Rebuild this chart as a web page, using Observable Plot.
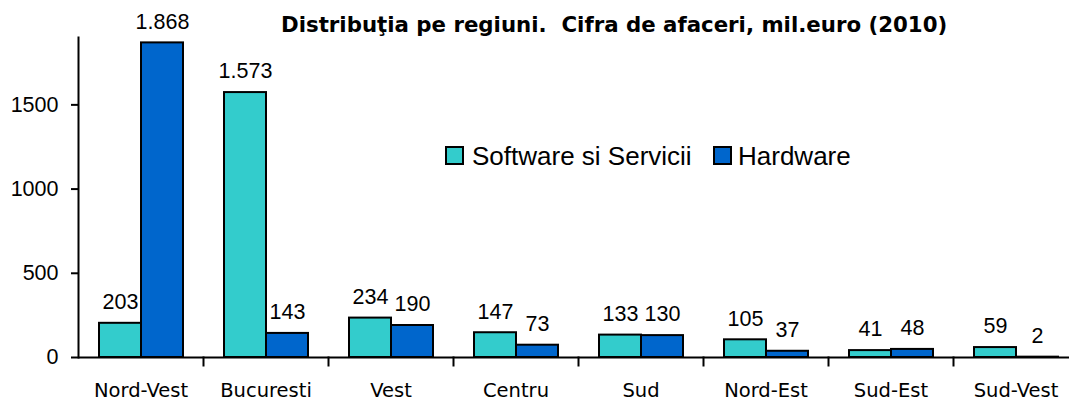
<!DOCTYPE html>
<html>
<head>
<meta charset="utf-8">
<script src="https://cdn.jsdelivr.net/npm/d3@7"></script>
<script src="https://cdn.jsdelivr.net/npm/@observablehq/plot@0.6"></script>
<style>
  html, body { margin: 0; padding: 0; background: white; }
  #wrap { position: relative; width: 1069px; height: 402px; overflow: hidden; }
  #title { position: absolute; left: 281px; top: 14px; font-family: "DejaVu Sans"; font-weight: bold; font-size: 21.3px; line-height: 22px; white-space: nowrap; color: black; }
  .sw { position: absolute; top: 146px; width: 19px; height: 19px; box-sizing: border-box; border: 2px solid black; }
  .lt { position: absolute; top: 143px; font-family: "Liberation Sans"; font-size: 26px; line-height: 26px; white-space: nowrap; color: black; }
  #chart { position: absolute; left: 0; top: 0; }
</style>
</head>
<body>
<div id="wrap">
  <div id="chart"></div>
  <div id="title">Distribuţia pe regiuni.&nbsp; Cifra de afaceri, mil.euro (2010)</div>
  <div id="legend"></div>
</div>
<script>
const regions = ["Nord-Vest", "Bucuresti", "Vest", "Centru", "Sud", "Nord-Est", "Sud-Est", "Sud-Vest"];
const seriesNames = ["Software si Servicii", "Hardware"];
const software = [203, 1573, 234, 147, 133, 105, 41, 59];
const hardware = [1868, 143, 190, 73, 130, 37, 48, 2];
const colors = ["#33CCCC", "#0066CC"];
const yTicks = [0, 500, 1000, 1500];

const data = regions.flatMap((r, i) => [
  {region: r, series: seriesNames[0], value: software[i]},
  {region: r, series: seriesNames[1], value: hardware[i]}
]);
const fmt = d3.formatLocale({decimal: ",", thousands: ".", grouping: [3], currency: ["", ""]}).format(",d");

const chart = Plot.plot({
  width: 1069,
  height: 402,
  marginLeft: 78,
  marginRight: -9,
  marginTop: 37,
  marginBottom: 45,
  style: {fontFamily: "Liberation Sans", fontSize: "21px", color: "black", background: "white", overflow: "visible"},
  fx: {domain: regions, paddingInner: 0, paddingOuter: 0, label: null},
  x: {domain: seriesNames, paddingInner: 0, paddingOuter: 0.47, axis: null},
  y: {domain: [0, 1900], axis: null},
  color: {domain: seriesNames, range: colors},
  marks: [
    Plot.barY(data, {fx: "region", x: "series", y: "value", fill: "series", stroke: "black", strokeWidth: 2}),
    Plot.text(data, {fx: "region", x: "series", y: "value", text: d => fmt(d.value), dy: -21, fontSize: 21.5, fontFamily: "Liberation Sans", fill: "black"}),
    Plot.ruleY([0], {strokeWidth: 2}),
    Plot.frame({anchor: "right", insetTop: 320, insetBottom: -8, strokeWidth: 2}),
    Plot.frame({anchor: "left", facetAnchor: "left", strokeWidth: 2}),
    Plot.axisY({anchor: "left", ticks: yTicks, tickFormat: "d", tickSize: 7, tickPadding: 13, strokeWidth: 2, fontSize: 21.5, fontFamily: "Liberation Sans", label: null}),
    Plot.axisFx({anchor: "bottom", tickSize: 0, tickPadding: 26, fontFamily: "DejaVu Sans", fontSize: 19.5, label: null})
  ]
});
document.getElementById("chart").appendChild(chart);

// legend
const legend = document.getElementById("legend");
const legendPos = [{sw: 445, tx: 472}, {sw: 713, tx: 738}];
seriesNames.forEach((name, i) => {
  const s = document.createElement("div");
  s.className = "sw";
  s.style.left = legendPos[i].sw + "px";
  s.style.background = colors[i];
  legend.appendChild(s);
  const t = document.createElement("div");
  t.className = "lt";
  t.style.left = legendPos[i].tx + "px";
  t.textContent = name;
  legend.appendChild(t);
});
</script>
</body>
</html>
